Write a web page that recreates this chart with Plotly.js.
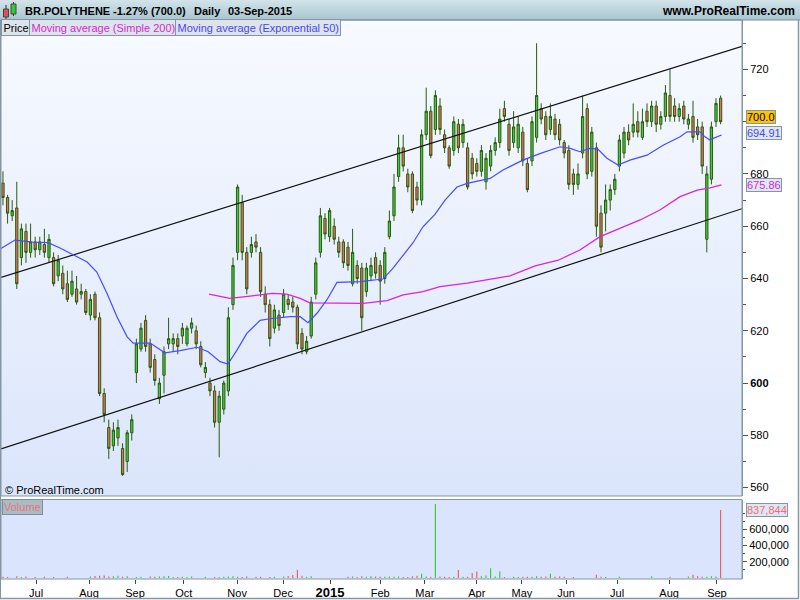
<!DOCTYPE html>
<html>
<head>
<meta charset="utf-8">
<script src="https://cdn.plot.ly/plotly-3.0.1.min.js"></script>
<style>
html,body{margin:0;padding:0;background:#fff;}
#wrap{position:relative;width:800px;height:600px;overflow:hidden;background:#fff;}
#hdr{position:absolute;left:0;top:0;width:800px;height:20px;background:linear-gradient(#d3e4ea,#a8c5d0);}
#pbg{position:absolute;left:1px;top:20px;width:741px;height:476px;background:linear-gradient(#f7faff,#dbe5fb);}
#vbg{position:absolute;left:1px;top:499px;width:741px;height:80px;background:#dae4fc;}
#chart{position:absolute;left:0;top:0;width:800px;height:600px;}
</style>
</head>
<body>
<div id="wrap">
<div id="hdr"></div><div id="pbg"></div><div id="vbg"></div>
<div id="chart"></div>
</div>
<script>
// ---- Data (each candle = 2 trading sessions, Jun 2014 .. 03-Sep-2015) ----
const candleOpen = [676.5,671,664,667,648,658,650,654,651,653,648,648,641,642,638,634,636,634,635,626,634,625,596,583,576,579,575,570,581,604,613,624,615,609,594,603,615,615,617,618,615,621,620,614,604,600,597,585,590,597,630,650,669,650,650,654,650,634,630,621,626,627,632,631,629,619,612,618,634,650,663,656,660,654,654,652,638,645,644,635,641,648,645,640,656,664,679,690,680,680,675,670,695,704,697,706,695,690,689,699,692,690,686,684,681,677,683,689,692,705,699,692,690,696,684,685,694,705,702,697,701,699,692,689,680,676,688,705,681,690,665,665,670,674,683,688,696,696,700,694,704,700,706,699,702,710,706,702,706,699,702,698,698,655,678,700,709];
const candleHigh = [681,672,670,677,661,661,661,656,656,659,657,650,649,645,643,643,641,638,636,634,635,627,598,586,585,586,577,582,588,617,623,626,617,611,602,614,625,619,619,623,622,625,622,616,608,602,599,597,601,629,648,676,672,652,656,657,652,637,632,630,628,636,634,633,630,621,618,633,648,667,665,667,663,656,655,654,659,647,646,646,648,650,647,652,666,680,695,695,682,681,677,697,713,706,712,709,697,691,702,701,701,692,688,686,691,688,691,694,705,708,701,704,702,698,686,702,730,707,704,707,703,701,693,691,682,684,710,707,698,692,668,676,676,680,695,698,699,707,704,705,707,708,708,704,714,720,709,707,708,703,708,701,700,683,700,709,710];
const candleLow = [668,661,662,636,645,646,648,648,649,648,646,637,639,634,631,633,630,632,626,624,624,595,585,571,574,576,564.5,566,578,600,612,612,604,599,592,596,613,612,611,615,614,619,613,606,602,595,583,571.6,588,595,628,647,647,634,648,650,633,627,614,619,620,625,628,627,613,611,611,617,632,648,655,654,653,648,644,643,637,638,620,633,639,640,630,638,655,662,677,681,673,665,668,668,693,686,695,695,688,682,687,688,690,674,678,679,679,674,681,687,690,700,687,690,688,683,673,683,692,699,693,695,693,691,686,674,672,674,686,678,679,656,650,658,666,672,681,686,691,694,694,693,698,698,696,697,700,700,700,700,699,697,692,693,680,650,676,698,699];
const candleClose = [671,665,666,638,659,650,654,651,654,650,655,638,647,636,632,639,631,635,627,632,625,596,588,575,582,583,565,581,586,615,621,614,606,601,600,612,617,617,614,621,621,623,615,607,606,597,585,595,600,625,645,675,650,636,653,652,635,630,617,628,622,634,630,629,615,613,616,631,646,664,657,666,655,650,646,645,650,640,625,644,645,642,639,650,662,675,690,683,675,666,670,695,704,687,710,697,690,683,700,690,699,675,680,681,689,686,689,692,701,702,689,698,699,685,674,700,710,701,695,702,695,693,688,676,676,680,702,680,696,660,652,670,674,678,693,696,693,699,696,700,700,706,699,702,711,702,702,705,701,701,694,695,683,680,698,707,700];
const volume = [15000,12000,0,20000,10000,18000,0,12000,0,15000,
 0,12000,0,0,14000,0,0,0,0,16000,
 22000,25000,30000,18000,20000,25000,15000,20000,0,12000,
 15000,0,18000,14000,16000,20000,22000,10000,12000,15000,
 10000,18000,0,0,14000,0,10000,12000,15000,18000,
 20000,15000,12000,18000,0,14000,15000,0,12000,15000,
 0,18000,22000,35000,100000,25000,15000,20000,0,0,
 0,0,0,0,0,15000,18000,12000,20000,15000,
 20000,18000,15000,14000,18000,15000,16000,12000,10000,20000,
 25000,50000,18000,15000,913000,16000,14000,12000,15000,97000,
 15000,15000,60000,80000,20000,30000,120000,18000,80000,12000,
 0,15000,12000,14000,15000,15000,20000,15000,18000,50000,
 15000,18000,15000,0,12000,0,0,0,0,40000,
 15000,12000,0,0,14000,0,0,0,0,0,
 0,20000,0,0,0,15000,0,0,0,18000,
 40000,20000,15000,15000,20000,18000,838000];

// Moving averages (candle index, value)
const ema50Idx = [-0.43,2.6,6.5,9.8,12.4,15.2,18.3,20.4,22.6,24.8,27,28.3,32,35.2,38.5,42.2,44.6,47.2,48.9,50.9,53,55.9,58,62.4,64.6,66.3,68.3,70.4,72.6,77.6,82.6,84.8,87,89.1,91.3,93.9,96.1,98.7,100.9,105.9,108.7,113,116.7,121.1,123.3,125.4,127.6,129.3,131.3,133.7,136.3,140,143.5,147.2,148.7,151.5,152.6,153.7,154.3,156.2];
const ema50 = [651.5,654.7,653.9,653.7,651.7,649,646.3,642.5,634.4,625.3,617.7,615.3,615.3,611.6,612.4,613.7,612,608.2,607.3,612.7,619,624,624.6,625.4,625.4,623.1,626.8,631.8,638.5,638.8,639.8,644,649,653.6,659.8,664.5,670,675,676.4,678.3,681.5,685.3,687.8,690.4,689.8,688.5,689.8,689.5,686,683.4,685.3,687.2,691,694.2,696.1,696.1,694.2,693,693.5,694.91];
const sma200Idx = [44.8,47.2,49.3,53.7,58.5,61.7,64.6,66.7,73.3,78.3,83.5,87,91.3,95,100.9,106.5,110.2,115.7,120.7,125.4,129.8,134.1,138.5,142.8,147.2,150.9,153.7,156.2];
const sma200 = [634,633,632.4,633.3,634.3,634,632.4,630.7,630.5,630.5,631.5,633.7,635,636.9,638.2,639.8,641,644.8,647,650.9,656,659.2,662.4,666.2,671.3,673.8,674.7,675.86];

// Trend channel (drawn lines), values at left and right edge of the chart
const channelIdx = [-0.43, 160.65];
const channelUpper = [640.4, 728.8];
const channelLower = [574.8, 666.7];

// Axis ticks
const monthTickPos = [7.2,18.7,28.7,39.3,50.9,60.9,71.1,82,91.7,103,112.8,122.4,133.5,144.8,155.2];
const monthLabels = ['Jul','Aug','Sep','Oct','Nov','Dec','<b style="font-size:13px">2015</b>','Feb','Mar','Apr','May','Jun','Jul','Aug','Sep'];
const priceTicks = [560,580,600,620,640,660,680,700,720];
const priceTickText = ['560','580','<b>600</b>','620','640','660','680','','720'];
const priceMinor = [570,590,610,630,650,670,690,710,730];
const volTicks = [200000,400000,600000];
const volTickText = ['200,000','400,000','600,000'];
const volMinor = [100000,300000,500000,700000,800000];
const headerParts = ['BR.POLYTHENE', '-1.27% (700.0)', 'Daily', '03-Sep-2015'];

// ---- Chart ----
const FONT = 'Arial, "Liberation Sans", sans-serif';
const px2x = p => (p - 1) / 741;
const py2y = p => (579 - p) / 559;
const volColors = candleClose.map((c, i) => c >= candleOpen[i] ? '#33cc33' : '#ee5c5c');
const headerLeft = [23, 111, 192, 226];

const traces = [
  {type:'scatter', mode:'lines', x:channelIdx, y:channelUpper, line:{color:'#111', width:1.2}, hoverinfo:'skip'},
  {type:'scatter', mode:'lines', x:channelIdx, y:channelLower, line:{color:'#111', width:1.2}, hoverinfo:'skip'},
  {type:'scatter', mode:'lines', x:sma200Idx, y:sma200, line:{color:'#dd22dd', width:1.3}, hoverinfo:'skip'},
  {type:'candlestick', open:candleOpen, high:candleHigh, low:candleLow, close:candleClose,
   increasing:{line:{color:'#2b5a0c', width:1}, fillcolor:'#40cc40'},
   decreasing:{line:{color:'#2b5a0c', width:1}, fillcolor:'#e0725c'},
   whiskerwidth:0, xaxis:'x', yaxis:'y'},
  {type:'scatter', mode:'lines', x:ema50Idx, y:ema50, line:{color:'#4a4aff', width:1.2}, hoverinfo:'skip'},
  {type:'bar', y:volume, marker:{color:volColors, line:{width:0}}, width:0.25, xaxis:'x', yaxis:'y2'}
];

const boxBorder = '#8496a2';
const annotations = headerParts.map((t, i) => ({
  xref:'paper', yref:'paper', x:px2x(headerLeft[i]), y:py2y(10.5), xanchor:'left', yanchor:'middle',
  showarrow:false, text:'<b>' + t + '</b>', font:{size:11, color:'#000'}
})).concat([
    {xref:'paper', yref:'paper', x:px2x(797), y:py2y(10.5), xanchor:'right', yanchor:'middle', showarrow:false,
     text:'<b>www.ProRealTime.com</b>', font:{size:12, color:'#000'}},
    {xref:'paper', yref:'paper', x:px2x(1), y:py2y(28), xanchor:'left', yanchor:'middle', showarrow:false,
     text:'Price', font:{size:11, color:'#000'}, bgcolor:'#dde4ec', bordercolor:boxBorder, borderwidth:1, borderpad:1.5},
    {xref:'paper', yref:'paper', x:px2x(29), y:py2y(28), xanchor:'left', yanchor:'middle', showarrow:false,
     text:'Moving average (Simple 200)', font:{size:11, color:'#d42ad4'}, bgcolor:'#dde4ec', bordercolor:boxBorder, borderwidth:1, borderpad:1.5},
    {xref:'paper', yref:'paper', x:px2x(175), y:py2y(28), xanchor:'left', yanchor:'middle', showarrow:false,
     text:'Moving average (Exponential 50)', font:{size:11, color:'#4848f0'}, bgcolor:'#dde4ec', bordercolor:boxBorder, borderwidth:1, borderpad:1.5},
    {xref:'paper', yref:'paper', x:px2x(3), y:py2y(490), xanchor:'left', yanchor:'middle', showarrow:false,
     text:'© ProRealTime.com', font:{size:11, color:'#000'}},
    {xref:'paper', yref:'paper', x:px2x(2), y:py2y(506.5), xanchor:'left', yanchor:'middle', showarrow:false,
     text:'Volume', font:{size:11, color:'#f07272'}, bgcolor:'#a9bcc5', bordercolor:'#7d8f99', borderwidth:1, borderpad:1},
    {xref:'paper', yref:'y', x:1, xshift:4, y:701.9, xanchor:'left', yanchor:'middle', showarrow:false,
     text:'700.0', font:{size:11, color:'#000'}, bgcolor:'#ffc400', bordercolor:boxBorder, borderwidth:1, borderpad:0},
    {xref:'paper', yref:'y', x:1, xshift:4, y:695.6, xanchor:'left', yanchor:'middle', showarrow:false,
     text:'694.91', font:{size:11, color:'#4848f0'}, bgcolor:'#dfe6f6', bordercolor:boxBorder, borderwidth:1, borderpad:0},
    {xref:'paper', yref:'y', x:1, xshift:4, y:675.86, xanchor:'left', yanchor:'middle', showarrow:false,
     text:'675.86', font:{size:11, color:'#d42ad4'}, bgcolor:'#dfe6f6', bordercolor:boxBorder, borderwidth:1, borderpad:0},
    {xref:'paper', yref:'y2', x:1, xshift:4, y:837844, xanchor:'left', yanchor:'middle', showarrow:false,
     text:'837,844', font:{size:11, color:'#ee7070'}, bgcolor:'#dfe6f6', bordercolor:boxBorder, borderwidth:1, borderpad:0}
]);

const layout = {
  width:800, height:600,
  margin:{l:1, r:58, t:20, b:21},
  paper_bgcolor:'rgba(0,0,0,0)', plot_bgcolor:'rgba(0,0,0,0)',
  showlegend:false,
  font:{family:FONT, size:11, color:'#000'},
  xaxis:{range:[-0.43,160.65], anchor:'y2', tickmode:'array', tickvals:monthTickPos, ticktext:monthLabels,
         ticks:'outside', ticklen:4, tickcolor:'#444', showgrid:false, zeroline:false, showline:false,
         rangeslider:{visible:false}, tickfont:{size:11, color:'#000'}},
  yaxis:{domain:[0.1485,1], range:[556.8,738.9], side:'right', anchor:'x', tickmode:'array',
         tickvals:priceTicks, ticktext:priceTickText, ticks:'outside', ticklen:5, tickcolor:'#555',
         showgrid:false, zeroline:false, showline:true, linecolor:boxBorder, tickfont:{size:11},
         minor:{tickmode:'array', tickvals:priceMinor, ticks:'outside', ticklen:3, tickcolor:'#555'}},
  yaxis2:{domain:[0,0.1422], range:[-13600,968000], side:'right', anchor:'x', tickmode:'array',
         tickvals:volTicks, ticktext:volTickText, ticks:'outside', ticklen:4, tickcolor:'#555',
         showgrid:false, zeroline:false, showline:true, linecolor:boxBorder, tickfont:{size:11},
         minor:{tickmode:'array', tickvals:volMinor, ticks:'outside', ticklen:2, tickcolor:'#555'}},
  shapes:[
    {type:'rect', xref:'paper', yref:'paper', x0:0, x1:1, y0:0.1485, y1:1, line:{color:boxBorder, width:1}},
    {type:'rect', xref:'paper', yref:'paper', x0:0, x1:1, y0:0, y1:0.1422, line:{color:boxBorder, width:1}},
    {type:'line', xref:'paper', yref:'paper', x0:px2x(0), x1:px2x(800), y0:py2y(20), y1:py2y(20), line:{color:'#7b8f99', width:1}},
    {type:'line', xref:'paper', yref:'paper', x0:px2x(798.5), x1:px2x(798.5), y0:py2y(20), y1:py2y(598.5), line:{color:boxBorder, width:1.5}},
    {type:'line', xref:'paper', yref:'paper', x0:px2x(0), x1:px2x(799), y0:py2y(598.5), y1:py2y(598.5), line:{color:boxBorder, width:1.5}},
    {type:'line', xref:'paper', yref:'paper', x0:px2x(0.5), x1:px2x(0.5), y0:py2y(20), y1:py2y(599), line:{color:boxBorder, width:1}},
    {type:'line', xref:'paper', yref:'paper', x0:px2x(6), x1:px2x(6), y0:py2y(5), y1:py2y(19), line:{color:'#333', width:1}},
    {type:'rect', xref:'paper', yref:'paper', x0:px2x(3.5), x1:px2x(8.5), y0:py2y(9), y1:py2y(17), fillcolor:'#e05050', line:{color:'#444', width:1}},
    {type:'line', xref:'paper', yref:'paper', x0:px2x(13.5), x1:px2x(13.5), y0:py2y(2), y1:py2y(16), line:{color:'#333', width:1}},
    {type:'rect', xref:'paper', yref:'paper', x0:px2x(11), x1:px2x(16), y0:py2y(4), y1:py2y(14), fillcolor:'#33cc33', line:{color:'#444', width:1}}
  ],
  annotations:annotations
};

Plotly.newPlot('chart', traces, layout, {staticPlot:true, displayModeBar:false});
</script>
</body>
</html>
